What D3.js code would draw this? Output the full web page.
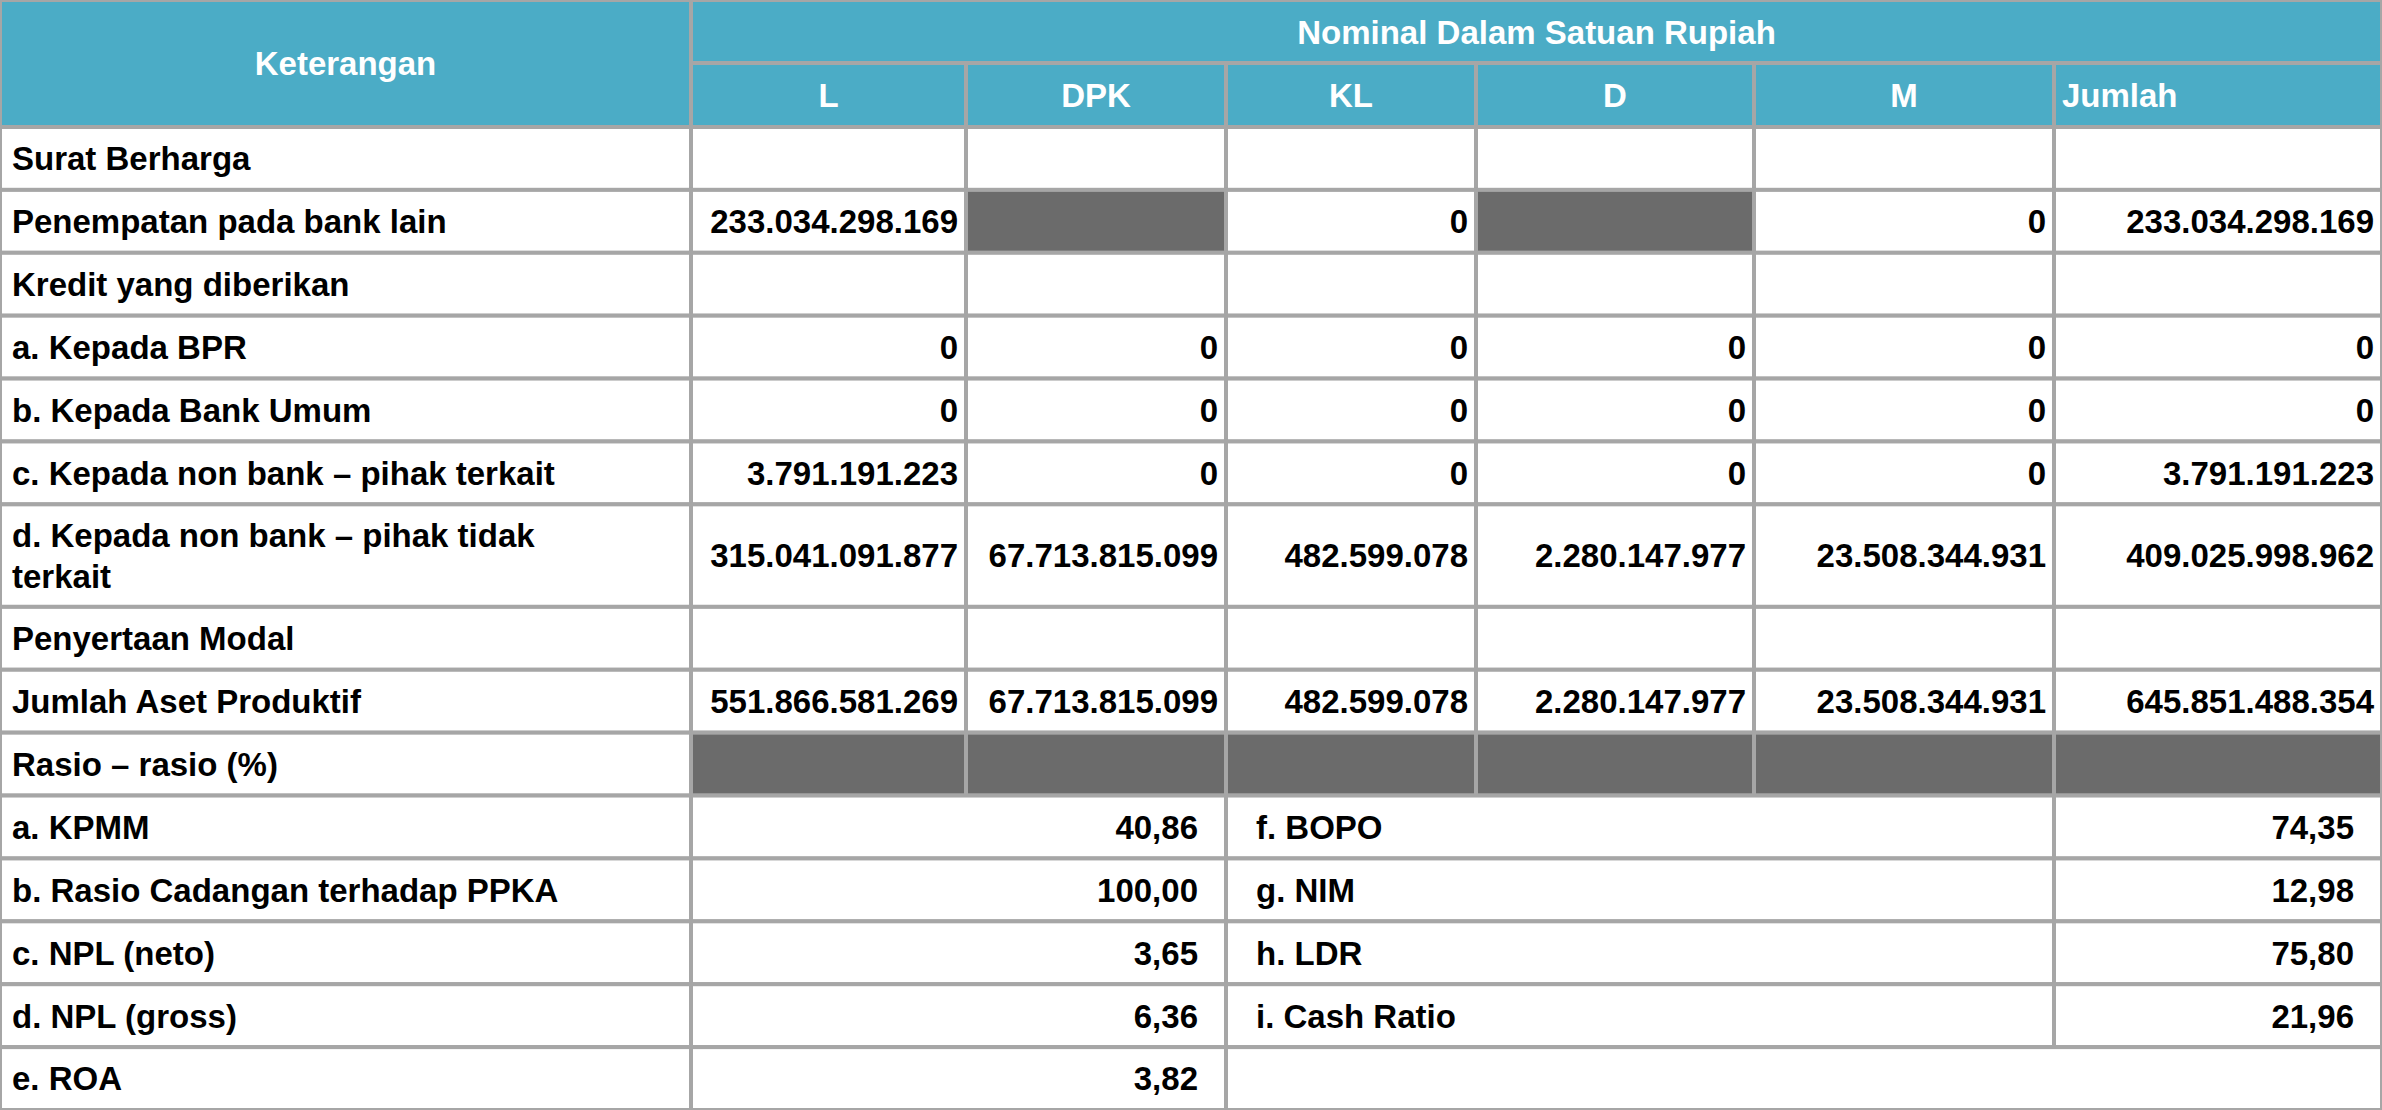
<!DOCTYPE html>
<html><head><meta charset="utf-8">
<script src="https://cdn.jsdelivr.net/npm/d3@7"></script>
<style>
body{margin:0;background:#fff;}
text{font-family:"Liberation Sans Narrow","Arial Narrow","Liberation Sans",sans-serif;font-weight:bold;}
</style></head>
<body><div id="chart"></div>
<script>
const W = 2382, H = 1110;
const columns = ['L', 'DPK', 'KL', 'D', 'M', 'Jumlah'];
const rowLabels = ['Surat Berharga', 'Penempatan pada bank lain', 'Kredit yang diberikan',
  'a. Kepada BPR', 'b. Kepada Bank Umum', 'c. Kepada non bank \u2013 pihak terkait',
  'd. Kepada non bank \u2013 pihak tidak|terkait', 'Penyertaan Modal', 'Jumlah Aset Produktif'];
// null = empty, 'X' = grey cell
const rowValues = [
  [null, null, null, null, null, null],
  ['233.034.298.169', 'X', '0', 'X', '0', '233.034.298.169'],
  [null, null, null, null, null, null],
  ['0', '0', '0', '0', '0', '0'],
  ['0', '0', '0', '0', '0', '0'],
  ['3.791.191.223', '0', '0', '0', '0', '3.791.191.223'],
  ['315.041.091.877', '67.713.815.099', '482.599.078', '2.280.147.977', '23.508.344.931', '409.025.998.962'],
  [null, null, null, null, null, null],
  ['551.866.581.269', '67.713.815.099', '482.599.078', '2.280.147.977', '23.508.344.931', '645.851.488.354']
];
const ratioLeftLabels = ['a. KPMM', 'b. Rasio Cadangan terhadap PPKA', 'c. NPL (neto)', 'd. NPL (gross)', 'e. ROA'];
const ratioLeftValues = ['40,86', '100,00', '3,65', '6,36', '3,82'];
const ratioRightLabels = ['f. BOPO', 'g. NIM', 'h. LDR', 'i. Cash Ratio', null];
const ratioRightValues = ['74,35', '12,98', '75,80', '21,96', null];

const edges = [0, 691, 966, 1226, 1476, 1754, 2054, W];
const x = d3.scaleOrdinal().domain(['K', ...columns, 'end']).range(edges);
const xr = c => x(columns[columns.indexOf(c) + 1] || 'end');

// row heights in units; d-row is taller
const units = [1, 1, 1, 1, 1, 1, 1.63, 1, 1, 1, 1, 1, 1, 1, 1];
const cum = [0]; units.forEach(u => cum.push(cum[cum.length - 1] + u));
const y = d3.scaleLinear().domain([0, cum[cum.length - 1]]).range([127, H]);

const svg = d3.select('#chart').append('svg').attr('width', W).attr('height', H);
const teal = '#4BACC6', grid = '#A6A6A6', grey = '#6B6B6B', fs = 33;

function cell(x0, x1, r, fill) {
  svg.append('rect').attr('x', x0).attr('y', y(cum[r])).attr('width', x1 - x0)
    .attr('height', y(cum[r + 1]) - y(cum[r])).attr('fill', fill || '#fff')
    .attr('stroke', grid).attr('stroke-width', 4);
}
function txt(s, xx, r, anchor, color) {
  const lines = s.split('|');
  const yc = (y(cum[r]) + y(cum[r + 1])) / 2;
  const t = svg.append('text').attr('x', xx).attr('text-anchor', anchor)
    .attr('font-size', fs).attr('fill', color || '#000');
  lines.forEach((l, i) => t.append('tspan').attr('x', xx)
    .attr('y', yc + fs * 0.36 + (i - (lines.length - 1) / 2) * fs * 1.25).text(l));
}

// header
svg.append('rect').attr('x', 0).attr('y', 0).attr('width', W).attr('height', 127).attr('fill', teal);
svg.append('line').attr('x1', edges[1]).attr('x2', edges[1]).attr('y1', 0).attr('y2', 127).attr('stroke', grid).attr('stroke-width', 4);
svg.append('line').attr('x1', edges[1]).attr('x2', W).attr('y1', 63).attr('y2', 63).attr('stroke', grid).attr('stroke-width', 4);
svg.append('rect').attr('x', 0).attr('y', 0).attr('width', W).attr('height', 127).attr('fill', 'none').attr('stroke', grid).attr('stroke-width', 4);
svg.append('text').attr('x', edges[1] / 2).attr('y', 75).attr('text-anchor', 'middle').attr('font-size', fs).attr('fill', '#fff').text('Keterangan');
svg.append('text').attr('x', (edges[1] + W) / 2).attr('y', 44).attr('text-anchor', 'middle').attr('font-size', fs).attr('fill', '#fff').text('Nominal Dalam Satuan Rupiah');
columns.forEach(c => {
  if (c !== 'L') svg.append('line').attr('x1', x(c)).attr('x2', x(c)).attr('y1', 63).attr('y2', 127).attr('stroke', grid).attr('stroke-width', 4);
  const last = c === 'Jumlah';
  svg.append('text').attr('x', last ? x(c) + 8 : (x(c) + xr(c)) / 2).attr('y', 107)
    .attr('text-anchor', last ? 'start' : 'middle').attr('font-size', fs).attr('fill', '#fff').text(c);
});

// asset rows
rowLabels.forEach((lab, r) => {
  cell(0, edges[1], r);
  txt(lab, 12, r, 'start');
  columns.forEach((c, j) => {
    const v = rowValues[r][j];
    cell(x(c), xr(c), r, v === 'X' ? grey : '#fff');
    if (v && v !== 'X') txt(v, xr(c) - 8, r, 'end');
  });
});

// ratio header row
const rr = rowLabels.length;
cell(0, edges[1], rr);
txt('Rasio \u2013 rasio (%)', 12, rr, 'start');
columns.forEach(c => cell(x(c), xr(c), rr, grey));

// ratio rows
ratioLeftLabels.forEach((lab, i) => {
  const r = rr + 1 + i;
  cell(0, edges[1], r);
  txt(lab, 12, r, 'start');
  cell(x('L'), xr('DPK'), r);
  txt(ratioLeftValues[i], xr('DPK') - 28, r, 'end');
  if (ratioRightLabels[i]) {
    cell(x('KL'), xr('M'), r);
    txt(ratioRightLabels[i], x('KL') + 30, r, 'start');
    cell(x('Jumlah'), W, r);
    txt(ratioRightValues[i], W - 28, r, 'end');
  } else {
    cell(x('KL'), W, r);
  }
});
</script></body></html>
